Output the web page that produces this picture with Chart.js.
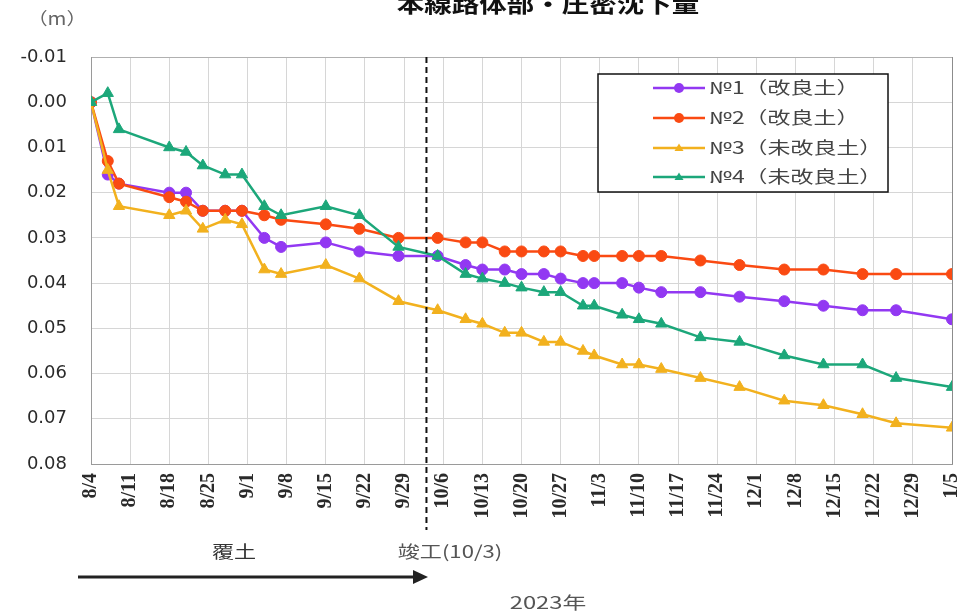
<!DOCTYPE html>
<html lang="ja">
<head>
<meta charset="utf-8">
<title>本線路体部・圧密沈下量</title>
<script src="https://cdn.jsdelivr.net/npm/chart.js@4.4.1/dist/chart.umd.min.js"></script>
<style>
  html, body { margin: 0; padding: 0; background: #ffffff; }
  #wrap { width: 968px; height: 613px; position: relative; }
</style>
</head>
<body>
<div id="wrap"><canvas id="c" width="968" height="613"></canvas></div>
<script>
// Measurement dates (2023-08-04 .. 2024-01-05)
const dates = [
  '2023-08-04','2023-08-07','2023-08-09','2023-08-18','2023-08-21','2023-08-24',
  '2023-08-28','2023-08-31','2023-09-04','2023-09-07','2023-09-15','2023-09-21',
  '2023-09-28','2023-10-05','2023-10-10','2023-10-13','2023-10-17','2023-10-20',
  '2023-10-24','2023-10-27','2023-10-31','2023-11-02','2023-11-07','2023-11-10',
  '2023-11-14','2023-11-21','2023-11-28','2023-12-06','2023-12-13','2023-12-20',
  '2023-12-26','2024-01-05'
];

// Settlement (m) per gauge
const no1 = [0, 0.016, 0.018, 0.020, 0.020, 0.024, 0.024, 0.024, 0.030, 0.032, 0.031, 0.033,
  0.034, 0.034, 0.036, 0.037, 0.037, 0.038, 0.038, 0.039, 0.040, 0.040, 0.040, 0.041,
  0.042, 0.042, 0.043, 0.044, 0.045, 0.046, 0.046, 0.048];
const no2 = [0, 0.013, 0.018, 0.021, 0.022, 0.024, 0.024, 0.024, 0.025, 0.026, 0.027, 0.028,
  0.030, 0.030, 0.031, 0.031, 0.033, 0.033, 0.033, 0.033, 0.034, 0.034, 0.034, 0.034,
  0.034, 0.035, 0.036, 0.037, 0.037, 0.038, 0.038, 0.038];
const no3 = [0, 0.015, 0.023, 0.025, 0.024, 0.028, 0.026, 0.027, 0.037, 0.038, 0.036, 0.039,
  0.044, 0.046, 0.048, 0.049, 0.051, 0.051, 0.053, 0.053, 0.055, 0.056, 0.058, 0.058,
  0.059, 0.061, 0.063, 0.066, 0.067, 0.069, 0.071, 0.072];
const no4 = [0, -0.002, 0.006, 0.010, 0.011, 0.014, 0.016, 0.016, 0.023, 0.025, 0.023, 0.025,
  0.032, 0.034, 0.038, 0.039, 0.040, 0.041, 0.042, 0.042, 0.045, 0.045, 0.047, 0.048,
  0.049, 0.052, 0.053, 0.056, 0.058, 0.058, 0.061, 0.063];

const seriesLabels = ['№1（改良土）', '№2（改良土）', '№3（未改良土）', '№4（未改良土）'];

// Weekly x-axis labels
const tickLabels = ['8/4','8/11','8/18','8/25','9/1','9/8','9/15','9/22','9/29','10/6',
  '10/13','10/20','10/27','11/3','11/10','11/17','11/24','12/1','12/8','12/15',
  '12/22','12/29','1/5'];

const yTickLabels = ['-0.01','0.00','0.01','0.02','0.03','0.04','0.05','0.06','0.07','0.08'];

const startDate = '2023-08-04';
const completionDate = '2023-10-03';

function dayIndex(s) {
  const p = s.split('-').map(Number);
  const q = startDate.split('-').map(Number);
  return Math.round((Date.UTC(p[0], p[1] - 1, p[2]) - Date.UTC(q[0], q[1] - 1, q[2])) / 86400000);
}

const xDays = dates.map(dayIndex);
const toPoints = vals => vals.map((v, i) => ({ x: xDays[i], y: v }));

const colors = ['#9238F2', '#FA4A12', '#F2B11E', '#1CA77A'];
const styles = ['circle', 'circle', 'triangle', 'triangle'];
const radii = [5.5, 5.5, 6.5, 6.5];
const seriesValues = [no1, no2, no3, no4];

const datasets = seriesValues.map((vals, i) => ({
  label: seriesLabels[i],
  data: toPoints(vals),
  borderColor: colors[i],
  backgroundColor: colors[i],
  pointBackgroundColor: colors[i],
  pointBorderColor: colors[i],
  pointStyle: styles[i],
  pointRadius: radii[i],
  pointBorderWidth: 1,
  borderWidth: 2.5,
  tension: 0,
  order: 4 - i
}));

const stretch = 1.3; // horizontal scale applied to the annotation text

function stretchedText(ctx, text, x, y, font, color, align, sx) {
  ctx.save();
  ctx.font = font;
  ctx.fillStyle = color;
  ctx.textBaseline = 'middle';
  const w = ctx.measureText(text).width * sx;
  let left = x;
  if (align === 'center') left = x - w / 2;
  else if (align === 'right') left = x - w;
  ctx.translate(left, y);
  ctx.scale(sx, 1);
  ctx.textAlign = 'left';
  ctx.fillText(text, 0, 0);
  ctx.restore();
}

function drawMarker(ctx, style, x, y, r, color) {
  ctx.save();
  ctx.fillStyle = color;
  ctx.beginPath();
  if (style === 'circle') {
    ctx.arc(x, y, r, 0, Math.PI * 2);
  } else {
    const h = r * 1.5;
    ctx.moveTo(x, y - h * 0.6);
    ctx.lineTo(x + r * 0.9, y + h * 0.4);
    ctx.lineTo(x - r * 0.9, y + h * 0.4);
    ctx.closePath();
  }
  ctx.fill();
  ctx.restore();
}

const overlay = {
  id: 'overlay',
  afterDraw(chart) {
    const ctx = chart.ctx;
    const xs = chart.scales.x;
    const area = chart.chartArea;

    // Title (top edge)
    stretchedText(ctx, '本線路体部・圧密沈下量', 548, 4,
      'bold 22px "Noto Sans CJK JP"', '#111111', 'center', 1.25);

    // Unit
    stretchedText(ctx, '（m）', 57, 19, '17px "Noto Sans CJK JP"', '#666666', 'center', 1.2);

    // Completion line
    const xc = xs.getPixelForValue(dayIndex(completionDate));
    ctx.save();
    ctx.strokeStyle = '#111111';
    ctx.lineWidth = 2;
    ctx.setLineDash([6, 4]);
    ctx.beginPath();
    ctx.moveTo(xc, area.top);
    ctx.lineTo(xc, 530);
    ctx.stroke();
    ctx.restore();

    // Bottom annotations
    stretchedText(ctx, '覆土', 234, 552, '17px "Noto Sans CJK JP"', '#333333', 'center', stretch);
    stretchedText(ctx, '竣工(10/3)', 450, 552, '17px "Noto Sans CJK JP"', '#555555', 'center', stretch);
    stretchedText(ctx, '2023年', 548, 603, '17px "Noto Sans CJK JP"', '#555555', 'center', 1.4);

    // Arrow for embankment period
    ctx.save();
    ctx.strokeStyle = '#222222';
    ctx.fillStyle = '#222222';
    ctx.lineWidth = 3;
    ctx.beginPath();
    ctx.moveTo(78, 577);
    ctx.lineTo(416, 577);
    ctx.stroke();
    ctx.beginPath();
    ctx.moveTo(428, 577);
    ctx.lineTo(413, 570);
    ctx.lineTo(413, 584);
    ctx.closePath();
    ctx.fill();
    ctx.restore();

    // Legend
    const lx = 598, ly = 74, lw = 290, lh = 118;
    ctx.save();
    ctx.fillStyle = '#ffffff';
    ctx.fillRect(lx, ly, lw, lh);
    ctx.strokeStyle = '#111111';
    ctx.lineWidth = 1.5;
    ctx.strokeRect(lx, ly, lw, lh);
    ctx.restore();
    const rows = [88, 118, 148, 177];
    chart.data.datasets.forEach((ds, i) => {
      const y = rows[i];
      ctx.save();
      ctx.strokeStyle = ds.borderColor;
      ctx.lineWidth = 2.5;
      ctx.beginPath();
      ctx.moveTo(653, y);
      ctx.lineTo(705, y);
      ctx.stroke();
      ctx.restore();
      drawMarker(ctx, ds.pointStyle, 679, y, 5, ds.borderColor);
      stretchedText(ctx, ds.label, 709, y, '17px "Noto Sans CJK JP"', '#444444', 'left', 1.35);
    });
  }
};

new Chart(document.getElementById('c'), {
  type: 'line',
  data: { datasets },
  options: {
    responsive: false,
    devicePixelRatio: 1,
    animation: false,
    layout: { padding: { top: 57, left: 0, right: 16, bottom: 0 } },
    plugins: {
      legend: { display: false },
      title: { display: false },
      tooltip: { enabled: false }
    },
    scales: {
      x: {
        type: 'linear',
        min: 0,
        max: dayIndex(dates[dates.length - 1]),
        afterFit(scale) {
          scale.height = 149;
          scale.paddingLeft = 0;
          scale.paddingRight = 0;
        },
        afterBuildTicks(scale) {
          scale.ticks = tickLabels.map((_, i) => ({ value: i * 7 }));
        },
        ticks: {
          autoSkip: false,
          minRotation: 90,
          maxRotation: 90,
          padding: 9,
          color: '#2a2a2a',
          font: { family: '"Liberation Serif"', size: 20, weight: 'bold' },
          callback: (v) => tickLabels[Math.round(v / 7)]
        },
        grid: {
          drawTicks: false,
          color: (c) => (c.index === tickLabels.length - 1 ? '#8c8c8c' : '#d6d6d6'),
          lineWidth: 1
        },
        border: { color: '#9a9a9a', width: 1 }
      },
      y: {
        reverse: true,
        min: -0.01,
        max: 0.08,
        afterFit(scale) {
          scale.width = 91;
          scale.paddingTop = 0;
          scale.paddingBottom = 0;
        },
        afterBuildTicks(scale) {
          scale.ticks = yTickLabels.map(t => ({ value: parseFloat(t) }));
        },
        ticks: {
          padding: 24,
          color: '#2a2a2a',
          font: { family: '"DejaVu Sans"', size: 18 },
          callback: (v, i) => yTickLabels[i]
        },
        grid: {
          drawTicks: false,
          color: (c) => (c.index === 0 ? '#b0b0b0' : '#d6d6d6'),
          lineWidth: 1
        },
        border: { color: '#9a9a9a', width: 1 }
      }
    }
  },
  plugins: [overlay]
});
</script>
</body>
</html>
